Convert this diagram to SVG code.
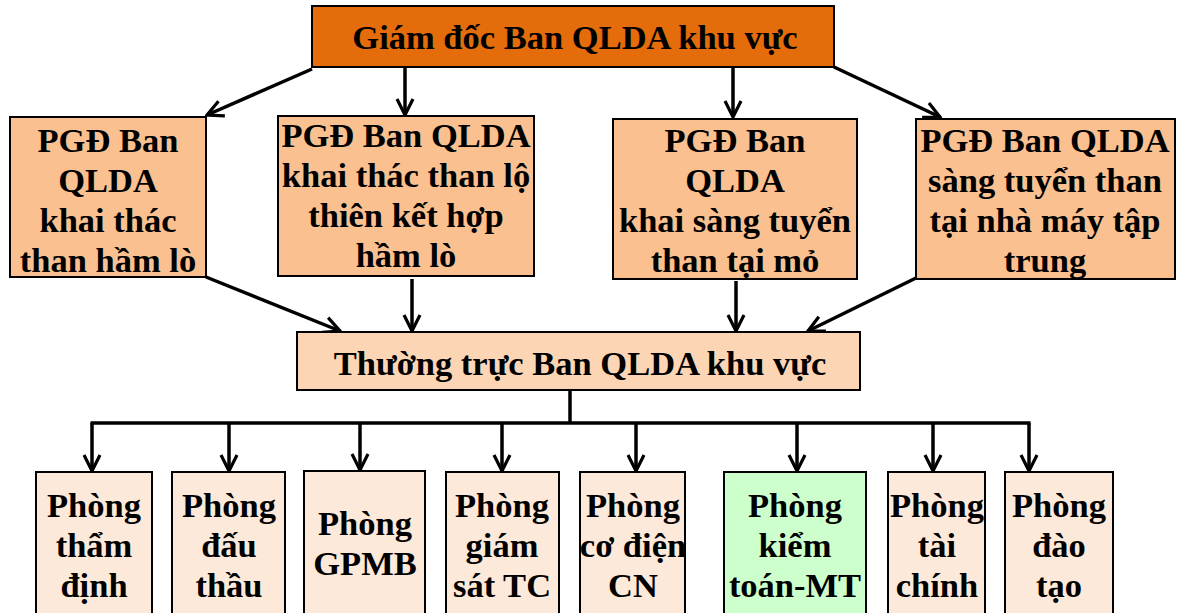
<svg xmlns="http://www.w3.org/2000/svg" width="1178" height="613" viewBox="0 0 1178 613">
  <defs>
    <marker id="arrow" viewBox="0 0 20 20" refX="18" refY="10" markerWidth="20" markerHeight="20" markerUnits="userSpaceOnUse" orient="auto">
      <path d="M2,2 L18,10 L2,18" fill="none" stroke="#000" stroke-width="3.2" stroke-linejoin="miter"/>
    </marker>
    <style>
      .box { stroke: #000; stroke-width: 2; }
      .dir { fill: #E46C0A; }
      .dep { fill: #FAC090; }
      .duty { fill: #FCD5B5; }
      .room { fill: #FDE9D9; }
      .green { fill: #CCFFCC; }
      .link { stroke: #000; stroke-width: 3.5; fill: none; }
      svg g text.lbl { font-family: "Liberation Serif", "Times New Roman", serif !important; font-weight: bold; font-size: 34.5px; text-anchor: middle; fill: #000; }
    </style>
  </defs>

  <!-- connectors -->
  <g id="connectors">
    <line class="link" x1="312" y1="69" x2="207" y2="115" marker-end="url(#arrow)"/>
    <line class="link" x1="405" y1="67" x2="405" y2="115" marker-end="url(#arrow)"/>
    <line class="link" x1="733" y1="67" x2="733" y2="117" marker-end="url(#arrow)"/>
    <line class="link" x1="834" y1="67" x2="940" y2="117" marker-end="url(#arrow)"/>

    <line class="link" x1="206" y1="277" x2="340" y2="331" marker-end="url(#arrow)"/>
    <line class="link" x1="412" y1="279" x2="412" y2="331" marker-end="url(#arrow)"/>
    <line class="link" x1="736" y1="281" x2="736" y2="331" marker-end="url(#arrow)"/>
    <line class="link" x1="916" y1="278" x2="808" y2="331" marker-end="url(#arrow)"/>

    <line class="link" x1="570" y1="390" x2="570" y2="423"/>
    <line class="link" x1="90.5" y1="423" x2="1030.5" y2="423"/>
    <line class="link" x1="92" y1="423" x2="92" y2="471" marker-end="url(#arrow)"/>
    <line class="link" x1="229" y1="423" x2="229" y2="471" marker-end="url(#arrow)"/>
    <line class="link" x1="360" y1="423" x2="360" y2="470" marker-end="url(#arrow)"/>
    <line class="link" x1="502" y1="423" x2="502" y2="471" marker-end="url(#arrow)"/>
    <line class="link" x1="636" y1="423" x2="636" y2="471" marker-end="url(#arrow)"/>
    <line class="link" x1="797" y1="423" x2="797" y2="471" marker-end="url(#arrow)"/>
    <line class="link" x1="933" y1="423" x2="933" y2="471" marker-end="url(#arrow)"/>
    <line class="link" x1="1029" y1="423" x2="1029" y2="471" marker-end="url(#arrow)"/>
  </g>

  <!-- director -->
  <g id="director">
    <rect class="box dir" x="312" y="6" width="522" height="61"/>
    <text class="lbl" font-family="Liberation Serif" x="575" y="49">Giám đốc Ban QLDA khu vực</text>
  </g>

  <!-- deputy directors -->
  <g id="pgd-ham-lo">
    <rect class="box dep" x="10" y="117" width="196" height="160"/>
    <text class="lbl" font-family="Liberation Serif" x="108" y="152">PGĐ Ban</text>
    <text class="lbl" font-family="Liberation Serif" x="108" y="192">QLDA</text>
    <text class="lbl" font-family="Liberation Serif" x="108" y="232">khai thác</text>
    <text class="lbl" font-family="Liberation Serif" x="108" y="272">than hầm lò</text>
  </g>
  <g id="pgd-lo-thien">
    <rect class="box dep" x="278" y="116" width="256" height="160"/>
    <text class="lbl" font-family="Liberation Serif" x="406" y="147">PGĐ Ban QLDA</text>
    <text class="lbl" font-family="Liberation Serif" x="406" y="187">khai thác than lộ</text>
    <text class="lbl" font-family="Liberation Serif" x="406" y="227">thiên kết hợp</text>
    <text class="lbl" font-family="Liberation Serif" x="406" y="267">hầm lò</text>
  </g>
  <g id="pgd-sang-tuyen-mo">
    <rect class="box dep" x="613" y="119" width="244" height="160"/>
    <text class="lbl" font-family="Liberation Serif" x="735" y="152">PGĐ Ban</text>
    <text class="lbl" font-family="Liberation Serif" x="735" y="192">QLDA</text>
    <text class="lbl" font-family="Liberation Serif" x="735" y="232">khai sàng tuyển</text>
    <text class="lbl" font-family="Liberation Serif" x="735" y="272">than tại mỏ</text>
  </g>
  <g id="pgd-nha-may">
    <rect class="box dep" x="916" y="119" width="259" height="160"/>
    <text class="lbl" font-family="Liberation Serif" x="1045" y="152">PGĐ Ban QLDA</text>
    <text class="lbl" font-family="Liberation Serif" x="1045" y="192">sàng tuyển than</text>
    <text class="lbl" font-family="Liberation Serif" x="1045" y="232">tại nhà máy tập</text>
    <text class="lbl" font-family="Liberation Serif" x="1045" y="272">trung</text>
  </g>

  <!-- standing office -->
  <g id="thuong-truc">
    <rect class="box duty" x="297" y="332" width="563" height="58"/>
    <text class="lbl" font-family="Liberation Serif" x="580" y="375">Thường trực Ban QLDA khu vực</text>
  </g>

  <!-- departments -->
  <g id="phong-tham-dinh">
    <rect class="box room" x="36" y="472" width="116" height="150"/>
    <text class="lbl" font-family="Liberation Serif" x="94" y="517">Phòng</text>
    <text class="lbl" font-family="Liberation Serif" x="94" y="557">thẩm</text>
    <text class="lbl" font-family="Liberation Serif" x="94" y="597">định</text>
  </g>
  <g id="phong-dau-thau">
    <rect class="box room" x="172" y="472" width="113" height="150"/>
    <text class="lbl" font-family="Liberation Serif" x="229" y="517">Phòng</text>
    <text class="lbl" font-family="Liberation Serif" x="229" y="557">đấu</text>
    <text class="lbl" font-family="Liberation Serif" x="229" y="597">thầu</text>
  </g>
  <g id="phong-gpmb">
    <rect class="box room" x="304" y="471" width="121" height="150"/>
    <text class="lbl" font-family="Liberation Serif" x="365" y="535">Phòng</text>
    <text class="lbl" font-family="Liberation Serif" x="365" y="575">GPMB</text>
  </g>
  <g id="phong-giam-sat">
    <rect class="box room" x="446" y="472" width="113" height="150"/>
    <text class="lbl" font-family="Liberation Serif" x="502" y="517">Phòng</text>
    <text class="lbl" font-family="Liberation Serif" x="502" y="557">giám</text>
    <text class="lbl" font-family="Liberation Serif" x="502" y="597">sát TC</text>
  </g>
  <g id="phong-co-dien">
    <rect class="box room" x="580" y="472" width="105" height="150"/>
    <text class="lbl" font-family="Liberation Serif" x="633" y="517">Phòng</text>
    <text class="lbl" font-family="Liberation Serif" x="633" y="557">cơ điện</text>
    <text class="lbl" font-family="Liberation Serif" x="633" y="597">CN</text>
  </g>
  <g id="phong-kiem-toan">
    <rect class="box green" x="724" y="472" width="142" height="150"/>
    <text class="lbl" font-family="Liberation Serif" x="795" y="517">Phòng</text>
    <text class="lbl" font-family="Liberation Serif" x="795" y="557">kiểm</text>
    <text class="lbl" font-family="Liberation Serif" x="795" y="597">toán-MT</text>
  </g>
  <g id="phong-tai-chinh">
    <rect class="box room" x="888" y="472" width="97" height="150"/>
    <text class="lbl" font-family="Liberation Serif" x="937" y="517">Phòng</text>
    <text class="lbl" font-family="Liberation Serif" x="937" y="557">tài</text>
    <text class="lbl" font-family="Liberation Serif" x="937" y="597">chính</text>
  </g>
  <g id="phong-dao-tao">
    <rect class="box room" x="1005" y="472" width="108" height="150"/>
    <text class="lbl" font-family="Liberation Serif" x="1059" y="517">Phòng</text>
    <text class="lbl" font-family="Liberation Serif" x="1059" y="557">đào</text>
    <text class="lbl" font-family="Liberation Serif" x="1059" y="597">tạo</text>
  </g>
</svg>
